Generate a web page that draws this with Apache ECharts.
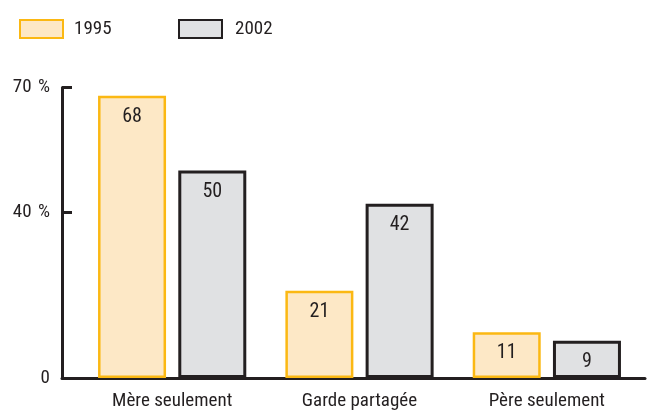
<!DOCTYPE html>
<html>
<head>
<meta charset="utf-8">
<script src="https://cdn.jsdelivr.net/npm/echarts@6/dist/echarts.min.js"></script>
<style>
  html, body { margin: 0; padding: 0; background: #fff; }
  #chart { width: 655px; height: 413px; }
</style>
</head>
<body>
<div id="chart"></div>
<script>
const categories = ['Mère seulement', 'Garde partagée', 'Père seulement']
const values1995 = [68, 21, 11]
const values2002 = [50, 42, 9]
const yLabels = [0, 40, 70]
const yTicks = [40, 70]

const FONT = '"Roboto Condensed", sans-serif'
const INK = '#231f20'
const W = 400

const chart = echarts.init(document.getElementById('chart'))

chart.setOption({
  animation: false,
  textStyle: { fontFamily: FONT, color: INK, fontWeight: W },
  legend: [
    {
      data: ['1995'], left: 14, top: 14, itemWidth: 43, itemHeight: 18, icon: 'rect',
      textStyle: { fontFamily: FONT, fontSize: 19, fontWeight: W, color: INK, padding: [0, 0, 0, 6] }
    },
    {
      data: ['2002'], left: 173, top: 14, itemWidth: 43, itemHeight: 18, icon: 'rect',
      textStyle: { fontFamily: FONT, fontSize: 19, fontWeight: W, color: INK, padding: [0, 0, 0, 8] }
    }
  ],
  grid: [
    // axis lines
    { left: 62, right: 10, top: 87.5, bottom: 35 },
    // bars
    { left: 78.5, right: 14.5, top: 87.5, bottom: 35 }
  ],
  xAxis: [
    {
      gridIndex: 0, type: 'value', min: 0, max: 1,
      axisLine: { show: true, lineStyle: { color: INK, width: 3 } },
      axisTick: { show: false }, axisLabel: { show: false }, splitLine: { show: false }
    },
    {
      gridIndex: 1, type: 'category', data: categories,
      axisLine: { show: false }, axisTick: { show: false },
      axisLabel: { fontFamily: FONT, fontSize: 19, fontWeight: W, color: INK, margin: 14 }
    }
  ],
  yAxis: [
    {
      gridIndex: 0, type: 'value', min: 0, max: 70,
      axisLine: { show: true, lineStyle: { color: INK, width: 3 } },
      axisTick: { show: true, inside: true, length: 10, customValues: yTicks, lineStyle: { color: INK, width: 3 } },
      axisLabel: {
        fontFamily: FONT, fontSize: 19, fontWeight: W, color: INK, margin: 12,
        customValues: yLabels,
        formatter: v => (v === 0 ? '0' : v + ' \u200a%')
      },
      splitLine: { show: false }
    },
    {
      gridIndex: 1, type: 'value', min: 0, max: 70, show: false
    }
  ],
  series: [
    {
      name: '1995', type: 'bar', xAxisIndex: 1, yAxisIndex: 1,
      data: values1995, barWidth: 68, barGap: '18%',
      itemStyle: { color: '#fde8c6', borderColor: '#fbb813', borderWidth: 2.5 },
      label: { show: true, position: 'insideTop', distance: 11, fontFamily: FONT, fontSize: 20, fontWeight: W, color: INK }
    },
    {
      name: '2002', type: 'bar', xAxisIndex: 1, yAxisIndex: 1,
      data: values2002, barWidth: 68,
      itemStyle: { color: '#e0e1e3', borderColor: INK, borderWidth: 3 },
      label: { show: true, position: 'insideTop', distance: 11, fontFamily: FONT, fontSize: 20, fontWeight: W, color: INK }
    }
  ]
})
</script>
</body>
</html>
